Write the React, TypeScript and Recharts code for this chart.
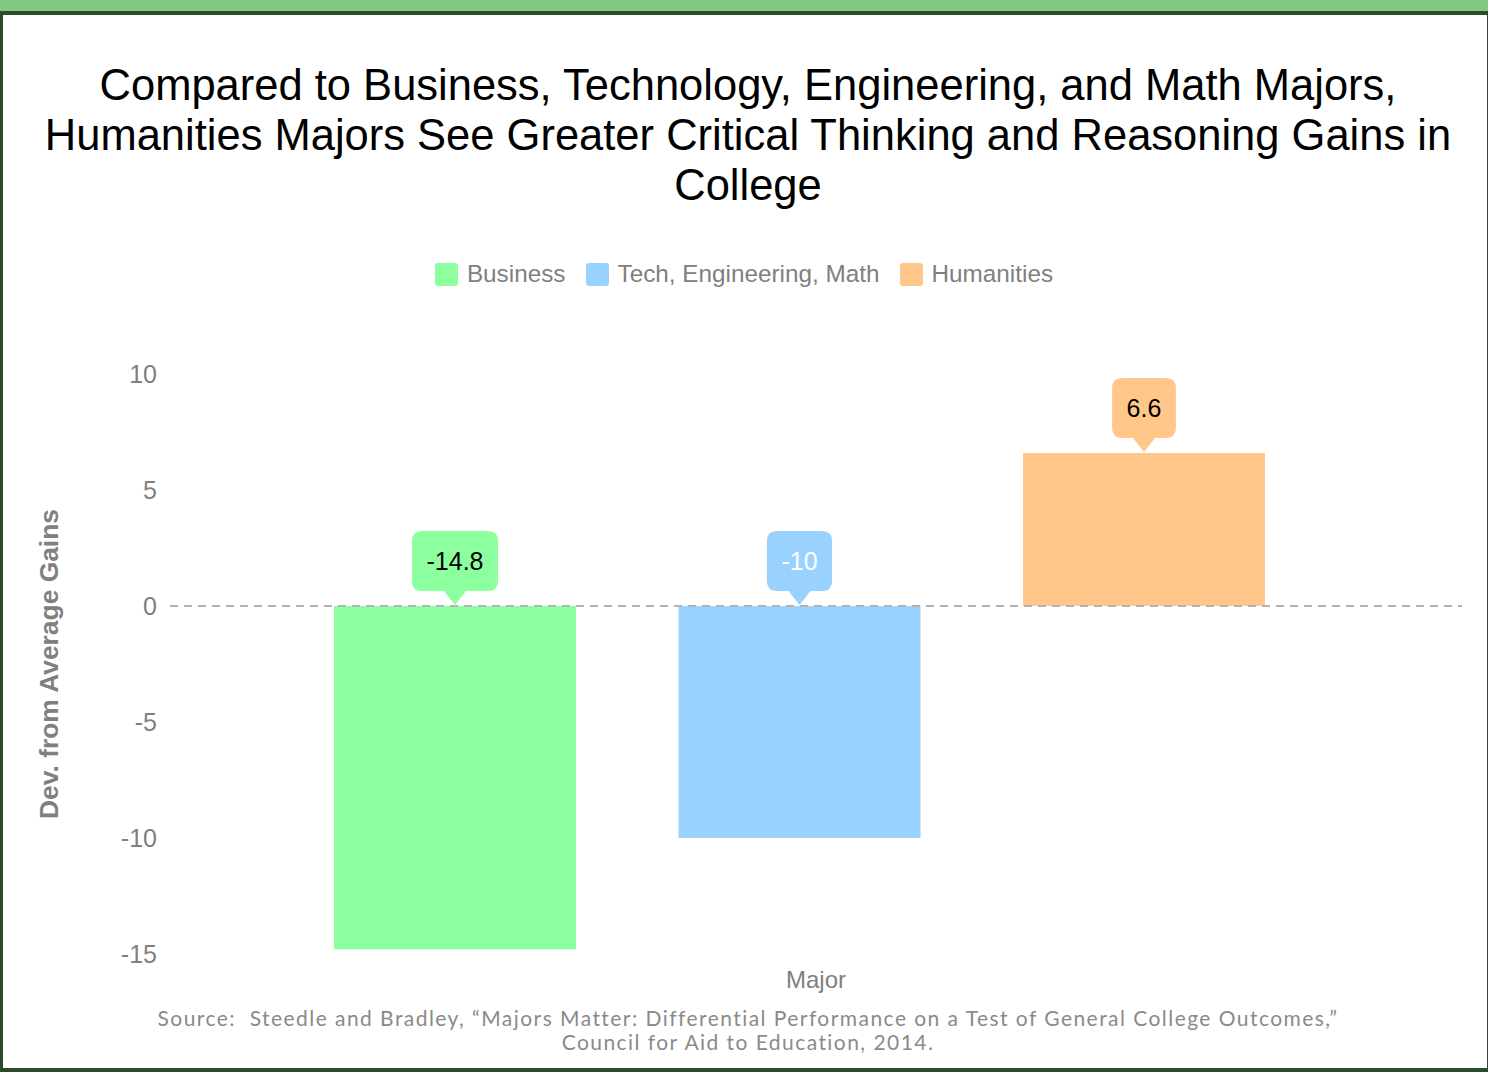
import React from "react";
import { Bar, BarChart, Legend, ReferenceLine, XAxis, YAxis } from "recharts";

const majors = ["Business", "Tech, Engineering, Math", "Humanities"];
const seriesKeys = ["business", "tech", "humanities"];
const gains = [-14.8, -10, 6.6];
const yTicks = [-15, -10, -5, 0, 5, 10];
const category = "Major";

const colors = ["#8cff9f", "#99d2ff", "#ffc88a"];
const labelInk = ["#000000", "#ffffff", "#000000"];

const row: Record<string, string | number> = { name: category };
seriesKeys.forEach((k, i) => {
  row[k] = gains[i];
});
const data = [row];

const SANS = "'Liberation Sans', Arial, Helvetica, sans-serif";

let ctx: CanvasRenderingContext2D | null = null;
function measure(text: string) {
  if (!ctx) ctx = document.createElement("canvas").getContext("2d");
  if (!ctx) return text.length * 13;
  ctx.font = `25px ${SANS}`;
  return ctx.measureText(text).width;
}

function Callout(props: any) {
  const vb = props.viewBox && props.viewBox.width != null ? props.viewBox : props;
  const { x, y, width, height } = vb;
  const top = Math.min(y, y + height);
  const cx = x + width / 2;
  const text = String(props.value);
  const w = measure(text) + 29;
  const h = 60;
  const r = 10;
  const tri = 14;
  const half = 11;
  const tip = top - 1;
  const bottom = tip - tri;
  const t = bottom - h;
  const l = cx - w / 2;
  const rr = cx + w / 2;
  const d = `M${l + r},${t} H${rr - r} Q${rr},${t} ${rr},${t + r} V${bottom - r} Q${rr},${bottom} ${rr - r},${bottom} H${cx + half} L${cx},${tip} L${cx - half},${bottom} H${l + r} Q${l},${bottom} ${l},${bottom - r} V${t + r} Q${l},${t} ${l + r},${t} Z`;
  return (
    <g>
      <path d={d} fill={props.bg} />
      <text
        x={cx}
        y={t + h / 2}
        textAnchor="middle"
        dominantBaseline="central"
        fontSize={25}
        fontFamily={SANS}
        fill={props.ink}
      >
        {text}
      </text>
    </g>
  );
}

// legend keeps the series order (recharts sorts its payload by name)
function LegendRow() {
  return (
    <div
      style={{
        display: "flex",
        justifyContent: "center",
        gap: 20,
        fontFamily: SANS,
        fontSize: 24.3,
        color: "#808080",
      }}
    >
      {majors.map((m, i) => (
        <div key={m} style={{ display: "flex", alignItems: "center" }}>
          <span
            style={{
              width: 23,
              height: 23,
              background: colors[i],
              borderRadius: 3,
              marginRight: 9,
              display: "inline-block",
            }}
          />
          <span>{m}</span>
        </div>
      ))}
    </div>
  );
}

export default function App() {
  return (
    <div
      style={{
        position: "absolute",
        top: 0,
        left: 0,
        width: 1488,
        height: 1072,
        background: "#ffffff",
        overflow: "hidden",
      }}
    >
      <div
        style={{
          position: "absolute",
          top: 0,
          left: 0,
          width: 1488,
          height: 11,
          background: "#80c980",
        }}
      />
      <div
        style={{
          position: "absolute",
          top: 11,
          left: 0,
          width: 1488,
          height: 1061,
          boxSizing: "border-box",
          borderStyle: "solid",
          borderColor: "#2c4a2c",
          borderWidth: "4px 1px 4px 3px",
        }}
      />
      <div
        style={{
          position: "absolute",
          top: 60,
          left: 4,
          width: 1488,
          textAlign: "center",
          fontFamily: SANS,
          fontSize: 43.5,
          lineHeight: "50px",
          color: "#000000",
        }}
      >
        Compared to Business, Technology, Engineering, and Math Majors,
        <br />
        Humanities Majors See Greater Critical Thinking and Reasoning Gains in
        <br />
        College
      </div>

      <div style={{ position: "absolute", top: 0, left: 0 }}>
        <BarChart
          width={1488}
          height={1072}
          data={data}
          margin={{ top: 374, right: 26, bottom: 68, left: 10 }}
          barGap={102.5}
        >
          <XAxis
            dataKey="name"
            tick={false}
            tickLine={false}
            axisLine={false}
            height={50}
            padding={{ left: 0, right: 33 }}
            label={{
              value: category,
              position: "center",
              fill: "#808080",
              fontSize: 24,
              fontFamily: SANS,
            }}
          />
          <YAxis
            domain={[-15, 10]}
            ticks={yTicks}
            width={160}
            axisLine={false}
            tickLine={false}
            tickMargin={7}
            tick={{ fill: "#808080", fontSize: 25, fontFamily: SANS }}
            label={{
              value: "Dev. from Average Gains",
              angle: -90,
              position: "insideLeft",
              offset: 39,
              fill: "#808080",
              fontSize: 26.4,
              fontWeight: "bold",
              fontFamily: SANS,
              style: { textAnchor: "middle" },
            }}
          />
          <Legend
            verticalAlign="middle"
            align="center"
            wrapperStyle={{ top: 260, left: 0, width: 1488 }}
            content={<LegendRow />}
          />
          {seriesKeys.map((k, i) => (
            <Bar
              key={k}
              dataKey={k}
              name={majors[i]}
              fill={colors[i]}
              barSize={242}
              isAnimationActive={false}
              label={(p: any) => <Callout {...p} bg={colors[i]} ink={labelInk[i]} />}
            />
          ))}
          <ReferenceLine y={0} stroke="#b3b3b3" strokeWidth={2} strokeDasharray="8 6" />
        </BarChart>
      </div>

      <div
        style={{
          position: "absolute",
          top: 1006,
          left: 0,
          width: 1496,
          textAlign: "center",
          fontFamily: "Lato, 'Open Sans', sans-serif",
          fontSize: 21,
          letterSpacing: 1.45,
          lineHeight: "24px",
          color: "#8a8a8a",
          whiteSpace: "pre",
        }}
      >
        {"Source:  Steedle and Bradley, “Majors Matter: Differential Performance on a Test of General College Outcomes,”"}
        <br />
        {"Council for Aid to Education, 2014."}
      </div>
    </div>
  );
}
